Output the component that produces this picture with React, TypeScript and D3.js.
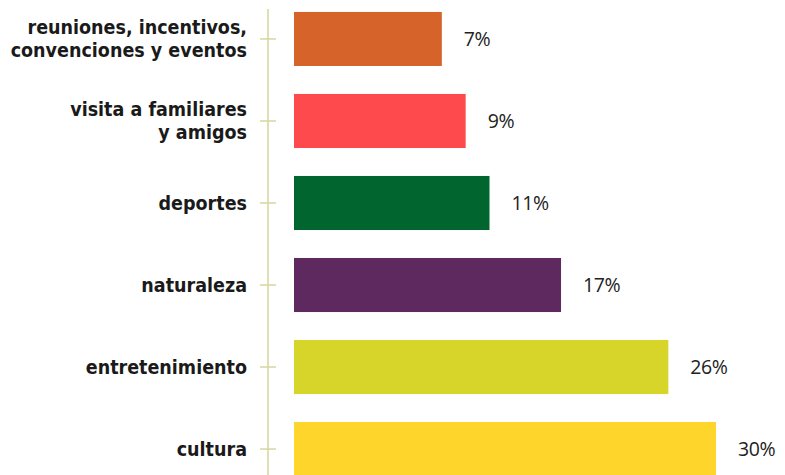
import React from "react";
import * as d3 from "d3";

const categories: string[][] = [
  ["reuniones, incentivos,", "convenciones y eventos"],
  ["visita a familiares", "y amigos"],
  ["deportes"],
  ["naturaleza"],
  ["entretenimiento"],
  ["cultura"],
];
const values: number[] = [7, 9, 11, 17, 26, 30];
const valueLabels: string[] = ["7%", "9%", "11%", "17%", "26%", "30%"];
const colors: string[] = ["#d6632a", "#fe494d", "#00652f", "#5e295f", "#d7d42a", "#fed52b"];

const W = 785;
const H = 475;

export default function App() {
  const keys = categories.map((c) => c.join(" "));
  const y = d3
    .scaleBand<string>()
    .domain(keys)
    .range([-2, 490])
    .paddingInner(0.341)
    .paddingOuter(0.17);
  const x0 = 294;
  const x = d3.scaleLinear().domain([-5.4, 30]).range([x0, 716]);
  const axisX = 268;

  return (
    <svg
      width={W}
      height={H}
      style={{ position: "absolute", left: 0, top: 0, background: "#fff" }}
    >
      <line x1={axisX} x2={axisX} y1={9} y2={H} stroke="#d9d8a2" strokeWidth={1.6} />
      {keys.map((k, i) => {
        const yc = (y(k) as number) + y.bandwidth() / 2;
        const lines = categories[i];
        const lh = 23;
        const startY = yc - ((lines.length - 1) * lh) / 2;
        return (
          <g key={k}>
            <line x1={axisX - 8} x2={axisX + 8} y1={yc} y2={yc} stroke="#d9d8a2" strokeWidth={1.6} />
            <rect
              x={x0}
              y={y(k) as number}
              width={x(values[i]) - x0}
              height={y.bandwidth()}
              fill={colors[i]}
            />
            {lines.map((l, j) => (
              <text
                key={j}
                x={247}
                y={startY + j * lh}
                dy="0.36em"
                textAnchor="end"
                fontFamily="'DejaVu Sans Condensed', 'DejaVu Sans', sans-serif"
                fontStretch="condensed"
                fontWeight={700}
                fontSize={19.5}
                fill="#1a1a1a"
              >
                {l}
              </text>
            ))}
            <text
              x={x(values[i]) + 22}
              y={yc}
              dy="0.35em"
              fontFamily="'Open Sans', sans-serif"
              fontWeight={400}
              fontSize={19.5}
              letterSpacing={-0.4}
              fill="#222"
            >
              {valueLabels[i]}
            </text>
          </g>
        );
      })}
    </svg>
  );
}
